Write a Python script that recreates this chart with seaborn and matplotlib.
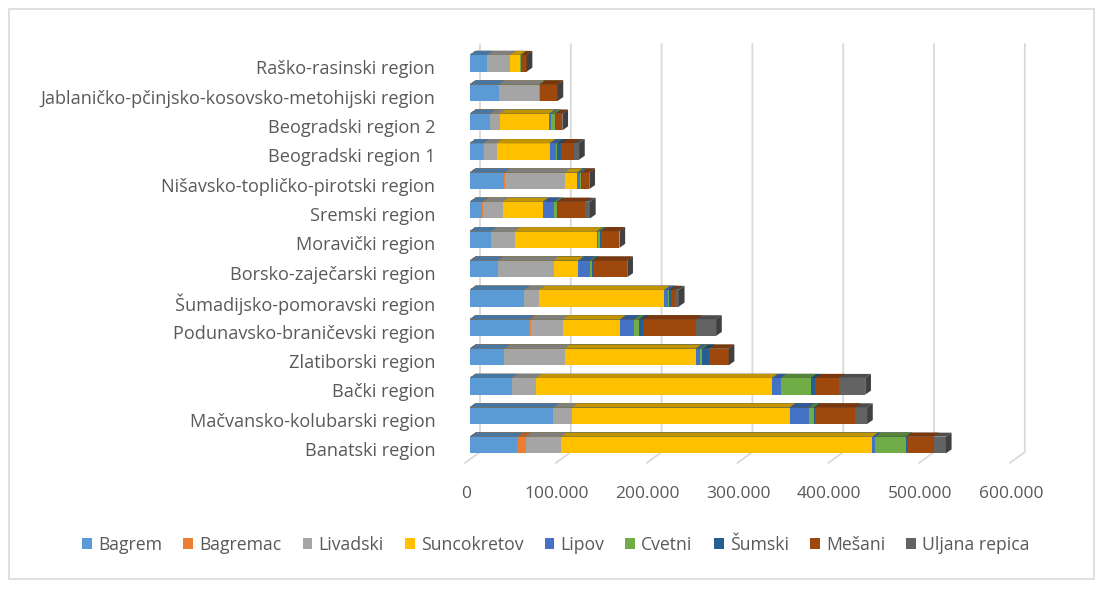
import numpy as np
import pandas as pd
import matplotlib
matplotlib.use("Agg")
import matplotlib.pyplot as plt
import seaborn as sns
from matplotlib.patches import Polygon, Rectangle, Patch
from matplotlib.lines import Line2D
from matplotlib.transforms import IdentityTransform, ScaledTranslation
import matplotlib.colors as mcolors

# ---------------- data ----------------
regions = ["Raško-rasinski region",
           "Jablaničko-pčinjsko-kosovsko-metohijski region",
           "Beogradski region 2",
           "Beogradski region 1",
           "Nišavsko-topličko-pirotski region",
           "Sremski region",
           "Moravički region",
           "Borsko-zaječarski region",
           "Šumadijsko-pomoravski region",
           "Podunavsko-braničevski region",
           "Zlatiborski region",
           "Bački region",
           "Mačvansko-kolubarski region",
           "Banatski region"]

series_names = ["Bagrem", "Bagremac", "Livadski", "Suncokretov", "Lipov",
                "Cvetni", "Šumski", "Mešani", "Uljana repica"]

bagrem      = [18500, 32000, 22000, 14800, 37500, 13700, 23300, 30500, 59500, 65300, 37500, 46000, 91800, 52200]
bagremac    = [0, 0, 500, 500, 500, 1000, 0, 500, 0, 1900, 0, 0, 0, 9100]
livadski    = [25700, 43600, 10000, 14300, 66800, 21300, 26500, 61300, 16900, 35600, 66800, 26800, 20500, 39300]
suncokretov = [11000, 0, 54700, 58400, 13200, 44000, 89900, 26800, 137600, 62400, 144300, 259700, 239800, 342500]
lipov       = [0, 0, 2200, 6900, 3000, 12900, 1500, 12900, 4400, 15500, 4400, 9900, 21300, 3000]
cvetni      = [1000, 1000, 4100, 1000, 1500, 2600, 2200, 1900, 500, 5500, 2600, 33000, 5200, 33700]
sumski      = [0, 0, 500, 4400, 500, 1000, 1000, 1500, 2600, 4400, 8000, 4800, 1500, 1000]
mesani      = [6200, 19800, 7700, 14000, 8400, 30100, 20200, 37800, 4800, 58400, 21300, 26500, 44000, 29700]
uljana      = [0, 0, 0, 5800, 0, 5500, 0, 0, 3700, 22000, 0, 28600, 13200, 13600]

x_ticks = [0, 100000, 200000, 300000, 400000, 500000, 600000]
x_tick_labels = ["0", "100.000", "200.000", "300.000", "400.000", "500.000", "600.000"]

series_values = [bagrem, bagremac, livadski, suncokretov, lipov, cvetni, sumski, mesani, uljana]
colors = ["#5B9BD5", "#ED7D31", "#A5A5A5", "#FFC000", "#4472C4",
          "#70AD47", "#255E91", "#9E480E", "#636363"]

df = pd.DataFrame({n: v for n, v in zip(series_names, series_values)})
df.insert(0, "region", regions)
cum = df[series_names].cumsum(axis=1)

# ---------------- figure ----------------
sns.set_theme(style="white")
plt.rcParams["font.family"] = ["Open Sans", "DejaVu Sans"]
TXT = "#595959"

W, H = 1104, 596
fig = plt.figure(figsize=(W / 100, H / 100), dpi=100)
fig.patch.set_facecolor("white")

x0_px, x1_px = 470.0, 470.0 + 544.8
yc_top, yc_bot = 63.3, 445.0
step = (yc_bot - yc_top) / (len(regions) - 1)
ax_top = yc_top - step / 2
ax_bot = yc_bot + step / 2
ax = fig.add_axes([x0_px / W, 1 - ax_bot / H, (x1_px - x0_px) / W, (ax_bot - ax_top) / H])
ax.set_facecolor("none")

def darker(c, f):
    r, g, b = mcolors.to_rgb(c)
    return (r * f, g * f, b * f)

bar_h = 16.7 / step
layer_patches = {}
for k in range(len(series_names) - 1, -1, -1):
    n_before = len(ax.patches)
    sns.barplot(x=cum[series_names[k]].values, y=df["region"].values, orient="h",
                color=colors[k], saturation=1, width=bar_h, linewidth=0,
                errorbar=None, ax=ax)
    layer_patches[k] = ax.patches[n_before:]

ax.set_xlim(0, 600000)
ax.set_ylim(len(regions) - 0.5, -0.5)

# 3D-like faces derived from the bar geometry
dx = 5.7 * 600000 / (x1_px - x0_px)
dy = 4.0 / step
for k in range(len(series_names) - 1, -1, -1):
    for p in layer_patches[k]:
        xa, yt, w, h = p.get_x(), p.get_y(), p.get_width(), p.get_height()
        xb = xa + w
        top = Polygon([(xa, yt), (xb, yt), (xb + dx, yt - dy), (xa + dx, yt - dy)],
                      closed=True, facecolor=darker(colors[k], 0.77), edgecolor="none",
                      clip_on=False, zorder=p.get_zorder())
        ax.add_patch(top)
        if k == len(series_names) - 1:
            side = Polygon([(xb, yt), (xb, yt + h), (xb + dx, yt + h - dy), (xb + dx, yt - dy)],
                           closed=True, facecolor="#404040", edgecolor="none",
                           clip_on=False, zorder=p.get_zorder() + 0.5)
            ax.add_patch(side)

# back-wall gridlines and floor diagonals (figure pixel coordinates)
px_per = (x1_px - x0_px) / 600000
for v in x_ticks:
    fx = x0_px + v * px_per
    xs = [fx + 10, fx + 10, fx - 5]
    ys = [44, 452, 463]
    fig.add_artist(Line2D(xs, [H - y for y in ys], transform=IdentityTransform(),
                          color="#D9D9D9", lw=1.3, zorder=-1))

ax.set_xticks(x_ticks)
ax.set_xticklabels(x_tick_labels)
ax.tick_params(axis="x", length=0, pad=19, labelsize=12.5, labelcolor=TXT)
ax.tick_params(axis="y", length=0, pad=25, labelsize=13.1, labelcolor=TXT)
ax.set_xlabel("")
ax.set_ylabel("")
for s in ax.spines.values():
    s.set_visible(False)
for lab in ax.get_xticklabels():
    lab.set_transform(lab.get_transform() + ScaledTranslation(-4 / 100, 0, fig.dpi_scale_trans))
for lab in ax.get_yticklabels():
    lab.set_transform(lab.get_transform() + ScaledTranslation(0, -4 / 100, fig.dpi_scale_trans))

handles = [Patch(facecolor=c, edgecolor="none", label=n) for c, n in zip(colors, series_names)]
leg = fig.legend(handles=handles, loc="center", bbox_to_anchor=(556 / W, 1 - 545 / H),
                 ncol=9, frameon=False, fontsize=12.7, handlelength=0.55, handleheight=0.55,
                 handletextpad=0.35, columnspacing=1.2)
for t in leg.get_texts():
    t.set_color(TXT)

fig.add_artist(Rectangle((9 / W, 1 - 579 / H), 1085 / W, 570 / H, transform=fig.transFigure,
                         fill=False, edgecolor="#D9D9D9", lw=1.2))

fig.savefig("out.png", dpi=100)
